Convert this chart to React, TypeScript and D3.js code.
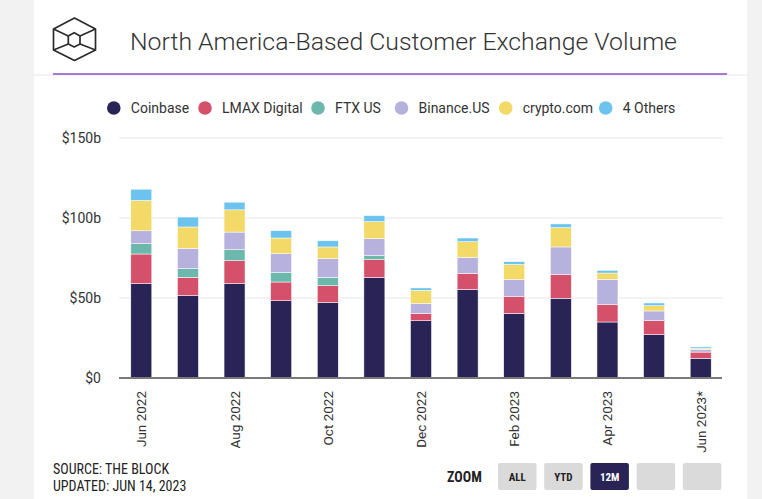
import React from "react";
import * as d3 from "d3";

const months = ["Jun 2022","Jul 2022","Aug 2022","Sep 2022","Oct 2022","Nov 2022","Dec 2022","Jan 2023","Feb 2023","Mar 2023","Apr 2023","May 2023","Jun 2023*"];
const tickMonths = ["Jun 2022","Aug 2022","Oct 2022","Dec 2022","Feb 2023","Apr 2023","Jun 2023*"];
const seriesNames = ["Coinbase","LMAX Digital","FTX US","Binance.US","crypto.com","4 Others"];
const seriesColors = ["#2a2456","#d5506b","#6cb8ad","#b7b1dd","#f3da68","#6cc4ee"];
const coinbase = [59, 51.5, 59, 48.3, 47.3, 62.9, 35.8, 55.4, 40.4, 49.8, 35, 27.1, 12.3];
const lmax = [18.5, 11.4, 14.3, 11.7, 10.4, 11.1, 4.6, 10, 10.4, 14.8, 11, 8.7, 3.9];
const ftx = [6.5, 5.4, 6.9, 6, 5.2, 2.5, 0, 0, 0, 0, 0, 0, 0];
const binance = [8, 12.7, 11, 11.7, 11.7, 10.6, 6.1, 10, 10.7, 17.3, 15.7, 6.1, 1.5];
const cryptocom = [19, 13.4, 13.9, 9.8, 7.3, 10.6, 8.3, 9.8, 9.5, 12.1, 3.9, 3.3, 0.8];
const others = [7, 6.2, 4.8, 4.6, 3.9, 3.8, 1.5, 2.3, 1.7, 2.3, 1.7, 1.7, 0.9];
const yTicks = [0, 50, 100, 150];
const yTickLabels = ["$0", "$50b", "$100b", "$150b"];
const zoomButtons = ["ALL", "YTD", "12M", "", ""];

const W = 762, H = 499;
const FONT = "Roboto, 'Noto Sans', sans-serif";
const NARROW = "'Liberation Sans Narrow', 'Arial Narrow', 'Roboto Condensed', sans-serif";

export default function App() {
  const series = [coinbase, lmax, ftx, binance, cryptocom, others];
  const table = months.map((m, i) => {
    const row: any = { month: m };
    seriesNames.forEach((s, j) => (row[s] = series[j][i]));
    return row;
  });
  const stacked = d3.stack().keys(seriesNames)(table as any);
  const x = d3.scaleBand().domain(months).range([118, 724]).paddingInner(0.55).paddingOuter(0.275);
  const y = d3.scaleLinear().domain([0, 150]).range([378, 138]);

  const legendX = [113.8, 205, 318, 401.5, 505.7, 605.7];

  return (
    <div style={{ position: "absolute", left: 0, top: 0 }}>
      <svg width={W} height={H} style={{ display: "block" }}>
        <rect x={0} y={0} width={W} height={H} fill="#f2f2f2" />
        <rect x={34} y={0} width={713} height={H} fill="#ffffff" />
        {/* logo */}
        <g fill="none" stroke="#2b2b2b" strokeWidth={1.7} strokeLinejoin="round">
          <path d="M74.5,18 L95.5,29 L95.5,50 L74.5,60.5 L53.5,50 L53.5,29 Z" />
          <path d="M74.2,32.7 L80,36 L80,44 L74.2,47 L68.3,44 L68.3,36 Z" />
          <path d="M53.5,29 L68.3,36 M95.5,29 L80,36 M53.5,50 L68.3,44 M95.5,50 L80,44" />
        </g>
        <text x={130} y={50} fontFamily={FONT} fontSize={24.8} fill="#333" fontWeight={300}>
          North America-Based Customer Exchange Volume
        </text>
        <line x1={34} x2={747} y1={75} y2={75} stroke="#e8e4ee" strokeWidth={1} />
        <line x1={53} x2={727} y1={74} y2={74} stroke="#8a4fc8" strokeWidth={1.5} />

        {/* legend */}
        {seriesNames.map((s, i) => (
          <g key={s}>
            <circle cx={legendX[i]} cy={108} r={6.8} fill={seriesColors[i]} />
            <text x={legendX[i] + 17} y={113} fontFamily={FONT} fontSize={14} fill="#333">{s}</text>
          </g>
        ))}

        {/* grid */}
        {yTicks.map((t, i) => (
          <g key={t}>
            {t > 0 && <line x1={119} x2={722} y1={y(t)} y2={y(t)} stroke="#e6e6e6" strokeWidth={1} />}
            <text x={101} y={y(t) + 5} textAnchor="end" fontFamily={FONT} fontSize={14} fill="#333">{yTickLabels[i]}</text>
          </g>
        ))}

        {/* bars */}
        {stacked.map((layer, li) => (
          <g key={layer.key} fill={seriesColors[li]}>
            {layer.map((d: any, i: number) => {
              const h = y(d[0]) - y(d[1]);
              if (h <= 0) return null;
              return (
                <rect key={i} x={x(months[i])} width={x.bandwidth()} y={y(d[1])} height={h} stroke="#fff" strokeWidth={0.5} />
              );
            })}
          </g>
        ))}
        <line x1={119} x2={722} y1={378} y2={378} stroke="#7a7a7a" strokeWidth={2} />

        {/* x labels */}
        {tickMonths.map((m) => {
          const cx = (x(m) as number) + x.bandwidth() / 2;
          return (
            <text key={m} transform={`translate(${cx + 5},391) rotate(-90)`} textAnchor="end" fontFamily={FONT} fontSize={13.5} fill="#333">{m}</text>
          );
        })}

        {/* footer */}
        <text x={53} y={474} fontFamily={NARROW} fontSize={14} fill="#222">SOURCE: THE BLOCK</text>
        <text x={53} y={491} fontFamily={NARROW} fontSize={14} fill="#222">UPDATED: JUN 14, 2023</text>
        <text x={447} y={482} fontFamily={NARROW} fontSize={14} fontWeight={700} fill="#222">ZOOM</text>
        {zoomButtons.map((b, i) => {
          const bx = 498 + i * 46.2;
          const active = b === "12M";
          return (
            <g key={i}>
              <rect x={bx} y={463} width={38.5} height={27} rx={2} fill={active ? "#2a2456" : "#dadada"} />
              {b && <text x={bx + 19.25} y={481} textAnchor="middle" fontFamily={NARROW} fontSize={11} fontWeight={700} fill={active ? "#fff" : "#222"}>{b}</text>}
            </g>
          );
        })}
      </svg>
    </div>
  );
}
